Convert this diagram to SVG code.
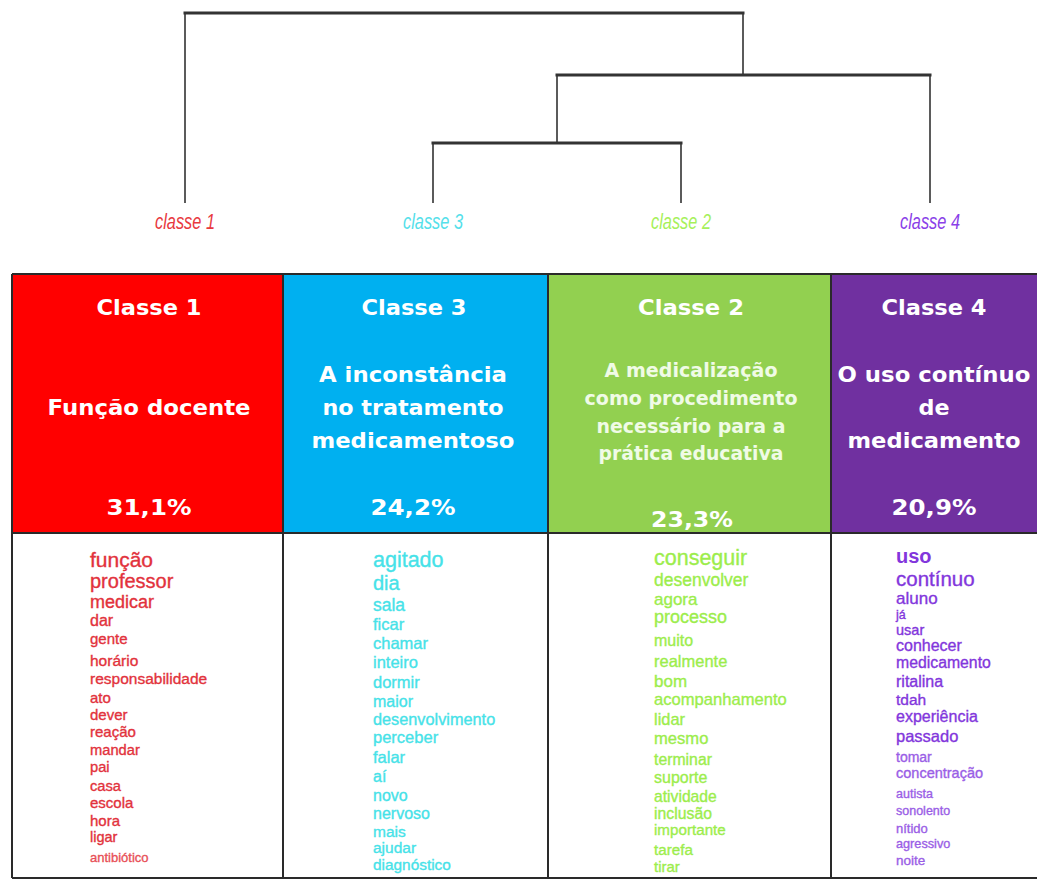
<svg xmlns="http://www.w3.org/2000/svg" width="1037" height="880" viewBox="0 0 1037 880">
<style>
.dh{stroke:#333;stroke-width:3;fill:none;stroke-linecap:square}
.dv{stroke:#333;stroke-width:1.6;fill:none}
.lbl{font-family:"Liberation Sans",Arial,sans-serif;font-style:italic;font-size:22px;text-anchor:middle}
.hd{font-family:"DejaVu Sans",Verdana,sans-serif;font-weight:bold;font-size:22px;fill:#fff;text-anchor:middle}
.hs{font-family:"DejaVu Sans",Verdana,sans-serif;font-weight:bold;font-size:19px;fill:#f0fbe6;text-anchor:middle}
.bd{stroke:#2a2a2a;stroke-width:2;fill:none}
.w{font-family:"Liberation Sans",Arial,sans-serif;stroke-width:.35}
.c1{fill:#e2323c;stroke:#e2323c}
.c3{fill:#46e2e8;stroke:#46e2e8}
.c2{fill:#9ced4c;stroke:#9ced4c}
.c4{fill:#8236dc;stroke:#8236dc}
.c1l{fill:#e85058;stroke:#e85058}
.c4l{fill:#9a5ee6;stroke:#9a5ee6}
</style>
<rect width="1037" height="880" fill="#fff"/>
<g id="connectors">
<path class="dh" d="M185 13H743"/>
<path class="dv" d="M185 13V203M743 13V75"/>
<path class="dh" d="M557 75H930"/>
<path class="dv" d="M557 75V143M930 75V203"/>
<path class="dh" d="M433 143H681"/>
<path class="dv" d="M433 143V203M681 143V203"/>
</g>
<g id="leaf-classe1"><text class="lbl" x="185" y="229" fill="#e8393f" textLength="60" lengthAdjust="spacingAndGlyphs">classe 1</text></g>
<g id="leaf-classe3"><text class="lbl" x="433" y="229" fill="#55e0ea" textLength="60" lengthAdjust="spacingAndGlyphs">classe 3</text></g>
<g id="leaf-classe2"><text class="lbl" x="681" y="229" fill="#a6f05a" textLength="60" lengthAdjust="spacingAndGlyphs">classe 2</text></g>
<g id="leaf-classe4"><text class="lbl" x="930" y="229" fill="#8a3fe8" textLength="60" lengthAdjust="spacingAndGlyphs">classe 4</text></g>

<g id="col-classe1">
<rect x="12" y="274" width="271" height="259" fill="#ff0000"/>
<text class="hd" x="149" y="315" textLength="105" lengthAdjust="spacingAndGlyphs">Classe 1</text>
<text class="hd" x="149" y="415" textLength="203" lengthAdjust="spacingAndGlyphs">Função docente</text>
<text class="hd" x="149" y="515" textLength="85" lengthAdjust="spacingAndGlyphs">31,1%</text>
<g class="w c1">
<text x="90" y="567" font-size="21">função</text>
<text x="90" y="588" font-size="20">professor</text>
<text x="90" y="608" font-size="18">medicar</text>
<text x="90" y="626" font-size="16">dar</text>
<text x="90" y="644" font-size="15">gente</text>
<text x="90" y="666" font-size="15.5">horário</text>
<text x="90" y="684" font-size="15.5">responsabilidade</text>
<text x="90" y="703" font-size="15">ato</text>
<text x="90" y="720" font-size="15">dever</text>
<text x="90" y="737" font-size="15">reação</text>
<text x="90" y="755" font-size="14.7">mandar</text>
<text x="90" y="772" font-size="14.7">pai</text>
<text x="90" y="791" font-size="14.7">casa</text>
<text x="90" y="808" font-size="15">escola</text>
<text x="90" y="826" font-size="15">hora</text>
<text x="90" y="842" font-size="14.5">ligar</text>
<text class="c1l" x="90" y="862" font-size="13">antibiótico</text>
</g>
</g>

<g id="col-classe3">
<rect x="283" y="274" width="265" height="259" fill="#00b0f0"/>
<text class="hd" x="414" y="315" textLength="105" lengthAdjust="spacingAndGlyphs">Classe 3</text>
<text class="hd" x="413" y="382" textLength="188" lengthAdjust="spacingAndGlyphs">A inconstância</text>
<text class="hd" x="413" y="415" textLength="181" lengthAdjust="spacingAndGlyphs">no tratamento</text>
<text class="hd" x="413" y="448" textLength="203" lengthAdjust="spacingAndGlyphs">medicamentoso</text>
<text class="hd" x="413" y="515" textLength="85" lengthAdjust="spacingAndGlyphs">24,2%</text>
<g class="w c3">
<text x="373" y="567" font-size="21.5">agitado</text>
<text x="373" y="590" font-size="20">dia</text>
<text x="373" y="611" font-size="17.5">sala</text>
<text x="373" y="630" font-size="16.5">ficar</text>
<text x="373" y="649" font-size="16.5">chamar</text>
<text x="373" y="668" font-size="16.5">inteiro</text>
<text x="373" y="688" font-size="16.5">dormir</text>
<text x="373" y="707" font-size="16">maior</text>
<text x="373" y="725" font-size="16.3">desenvolvimento</text>
<text x="373" y="743" font-size="16.5">perceber</text>
<text x="373" y="763" font-size="16.5">falar</text>
<text x="373" y="782" font-size="16">aí</text>
<text x="373" y="801" font-size="16">novo</text>
<text x="373" y="819" font-size="16">nervoso</text>
<text x="373" y="837" font-size="15.5">mais</text>
<text x="373" y="853" font-size="15.5">ajudar</text>
<text x="373" y="870" font-size="15.4">diagnóstico</text>
</g>
</g>

<g id="col-classe2">
<rect x="548" y="274" width="283" height="259" fill="#92d050"/>
<text class="hd" x="691" y="315" textLength="106" lengthAdjust="spacingAndGlyphs">Classe 2</text>
<text class="hs" x="691" y="377" textLength="173" lengthAdjust="spacingAndGlyphs">A medicalização</text>
<text class="hs" x="691" y="405" textLength="213" lengthAdjust="spacingAndGlyphs">como procedimento</text>
<text class="hs" x="691" y="433" textLength="189" lengthAdjust="spacingAndGlyphs">necessário para a</text>
<text class="hs" x="691" y="460" textLength="185" lengthAdjust="spacingAndGlyphs">prática educativa</text>
<text class="hd" x="692" y="527" textLength="82" lengthAdjust="spacingAndGlyphs">23,3%</text>
<g class="w c2">
<text x="654" y="565" font-size="21.5">conseguir</text>
<text x="654" y="586" font-size="17.5">desenvolver</text>
<text x="654" y="605" font-size="17">agora</text>
<text x="654" y="623" font-size="18">processo</text>
<text x="654" y="646" font-size="16">muito</text>
<text x="654" y="667" font-size="16.5">realmente</text>
<text x="654" y="687" font-size="17">bom</text>
<text x="654" y="705" font-size="16.6">acompanhamento</text>
<text x="654" y="725" font-size="16.4">lidar</text>
<text x="654" y="744" font-size="16.6">mesmo</text>
<text x="654" y="765" font-size="15.8">terminar</text>
<text x="654" y="783" font-size="16">suporte</text>
<text x="654" y="802" font-size="15.7">atividade</text>
<text x="654" y="819" font-size="15.8">inclusão</text>
<text x="654" y="835" font-size="15.2">importante</text>
<text x="654" y="855" font-size="15.2">tarefa</text>
<text x="654" y="872" font-size="15">tirar</text>
</g>
</g>

<g id="col-classe4">
<rect x="831" y="274" width="206" height="259" fill="#7030a0"/>
<text class="hd" x="934" y="315" textLength="105" lengthAdjust="spacingAndGlyphs">Classe 4</text>
<text class="hd" x="934" y="382" textLength="193" lengthAdjust="spacingAndGlyphs">O uso contínuo</text>
<text class="hd" x="934" y="415" textLength="31" lengthAdjust="spacingAndGlyphs">de</text>
<text class="hd" x="934" y="448" textLength="173" lengthAdjust="spacingAndGlyphs">medicamento</text>
<text class="hd" x="934" y="515" textLength="85" lengthAdjust="spacingAndGlyphs">20,9%</text>
<g class="w c4">
<text x="896" y="563" font-size="20" font-weight="bold" stroke-width="0">uso</text>
<text x="896" y="586" font-size="20.5">contínuo</text>
<text x="896" y="604" font-size="17">aluno</text>
<text x="896" y="619" font-size="12.5">já</text>
<text x="896" y="635" font-size="14.5">usar</text>
<text x="896" y="651" font-size="16">conhecer</text>
<text x="896" y="668" font-size="15.8">medicamento</text>
<text x="896" y="687" font-size="16">ritalina</text>
<text x="896" y="705" font-size="15.5">tdah</text>
<text x="896" y="722" font-size="16">experiência</text>
<text x="896" y="742" font-size="16.5">passado</text>
<text class="c4l" x="896" y="762" font-size="14">tomar</text>
<text class="c4l" x="896" y="778" font-size="14.5">concentração</text>
<text class="c4l" x="896" y="798" font-size="12.5">autista</text>
<text class="c4l" x="896" y="815" font-size="12.5">sonolento</text>
<text class="c4l" x="896" y="833" font-size="13">nítido</text>
<text class="c4l" x="896" y="848" font-size="12.7">agressivo</text>
<text class="c4l" x="896" y="865" font-size="13.5">noite</text>
</g>
</g>

<g id="table-borders">
<path class="bd" d="M12 274H1037M12 533H1037M12 878H1037M12 274V878M283 274V878M548 274V878M831 274V878"/>
</g>
</svg>
